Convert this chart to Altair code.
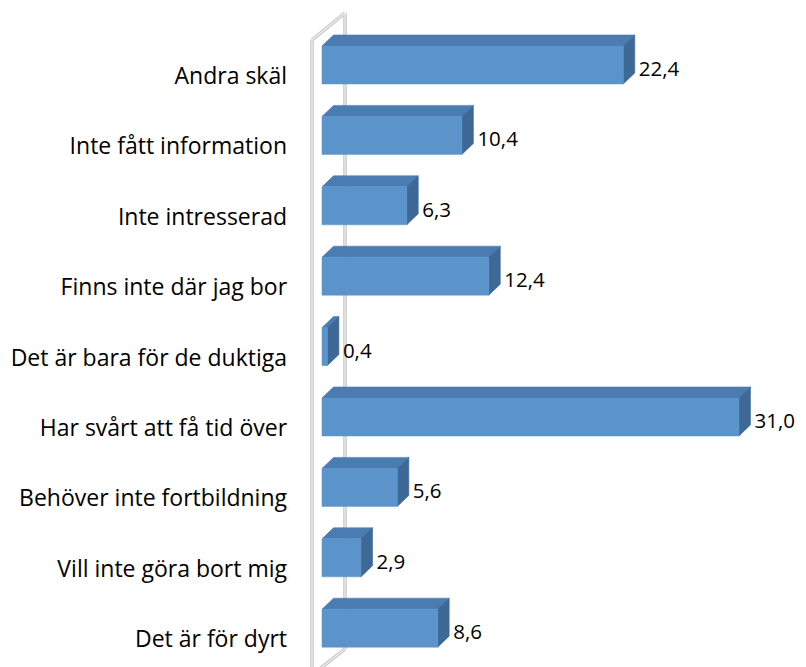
import altair as alt
import pandas as pd

# ---- data ----
categories = [
    "Andra skäl",
    "Inte fått information",
    "Inte intresserad",
    "Finns inte där jag bor",
    "Det är bara för de duktiga",
    "Har svårt att få tid över",
    "Behöver inte fortbildning",
    "Vill inte göra bort mig",
    "Det är för dyrt",
]
values = [22.4, 10.4, 6.3, 12.4, 0.4, 31.0, 5.6, 2.9, 8.6]

# ---- style / layout constants ----
W, H = 790, 659
PX_X = 13.45          # pixels per value unit
X0 = 314              # pixel of value 0 inside plot
PX_ROW = 70.4         # pixels between rows
ROW0 = 57             # pixel of first row centre
X_DOM = [-X0 / PX_X, (W - X0) / PX_X]
Y_DOM = [-ROW0 / PX_ROW, (H - ROW0) / PX_ROW]

HALF = 19 / PX_ROW    # half bar height (rows)
DY = 11 / PX_ROW      # depth offset (rows)
DX = 11.5 / PX_X      # depth offset (units)

FRONT = "#5B94CB"
TOP = "#4A7BB1"
SIDE = "#3E6895"
FONT = "Open Sans"
FSIZE = 23
VSIZE = 20.5

xs = alt.Scale(domain=X_DOM, nice=False, zero=False)
ys = alt.Scale(domain=Y_DOM, nice=False, zero=False, reverse=True)


def poly_area(poly, pid):
    """Convert convex polygon to area rows (x, y, y2)."""
    xs_ = sorted(set(round(p[0], 9) for p in poly))
    rows = []
    n = len(poly)
    for x in xs_:
        ys_ = []
        for k in range(n):
            (x1, y1), (x2, y2) = poly[k], poly[(k + 1) % n]
            lo, hi = min(x1, x2), max(x1, x2)
            if lo - 1e-9 <= x <= hi + 1e-9:
                if abs(x2 - x1) < 1e-12:
                    ys_ += [y1, y2]
                else:
                    t = (x - x1) / (x2 - x1)
                    ys_.append(y1 + t * (y2 - y1))
        rows.append({"id": pid, "x": x, "y": min(ys_), "y2": max(ys_)})
    return rows


front_rows, top_rows, side_rows, val_rows, cat_rows = [], [], [], [], []
for i, (c, v) in enumerate(zip(categories, values)):
    t, b = i - HALF, i + HALF
    front_rows.append({"id": i, "x": 0, "x2": v, "y": t, "y2": b})
    top_rows += poly_area([(0, t), (v, t), (v + DX, t - DY), (DX, t - DY)], i)
    side_rows += poly_area([(v, t), (v + DX, t - DY), (v + DX, b - DY), (v, b)], i)
    val_rows.append({"x": v + DX + 4 / PX_X, "y": i + 5 / PX_ROW,
                     "label": f"{v:.1f}".replace(".", ",")})
    cat_rows.append({"x": -2.6, "y": i + 12 / PX_ROW, "label": c})

# wall (gray frame)
def px2x(p):
    return (p - 8 - X0) / PX_X

def px2y(p):
    return (p - 8 - ROW0) / PX_ROW

wall_segments = [
    [(312, 40), (312, 690)],
    [(345, 13), (345, 649)],
    [(312, 40), (345, 13)],
    [(312, 675), (345, 649)],
]
wall_rows = []
for k, seg in enumerate(wall_segments):
    for j, (px, py) in enumerate(seg):
        wall_rows.append({"seg": k, "o": j, "x": px2x(px), "y": px2y(py)})
wall_df = pd.DataFrame(wall_rows)

wall_enc = dict(
    x=alt.X("x:Q", scale=xs, axis=None),
    y=alt.Y("y:Q", scale=ys, axis=None),
    detail="seg:N",
    order="o:Q",
)
wall_outer = alt.Chart(wall_df).mark_line(color="#c4c4c4", strokeWidth=3.5, clip=True).encode(**wall_enc)
wall_inner = alt.Chart(wall_df).mark_line(color="#efefef", strokeWidth=1.3, clip=True).encode(**wall_enc)

area_enc = dict(
    x=alt.X("x:Q", scale=xs, axis=None),
    y=alt.Y("y:Q", scale=ys, axis=None),
    y2="y2:Q",
    detail="id:N",
)
top_layer = alt.Chart(pd.DataFrame(top_rows)).mark_area(
    color=TOP, stroke=TOP, strokeWidth=0.6, interpolate="linear").encode(**area_enc)
side_layer = alt.Chart(pd.DataFrame(side_rows)).mark_area(
    color=SIDE, stroke=SIDE, strokeWidth=0.6, interpolate="linear").encode(**area_enc)
front_layer = alt.Chart(pd.DataFrame(front_rows)).mark_rect(
    color=FRONT, stroke=FRONT, strokeWidth=0.5).encode(
    x=alt.X("x:Q", scale=xs, axis=None),
    x2="x2:Q",
    y=alt.Y("y:Q", scale=ys, axis=None),
    y2="y2:Q",
)

val_layer = alt.Chart(pd.DataFrame(val_rows)).mark_text(
    align="left", baseline="middle", font=FONT, fontSize=VSIZE, color="#000000").encode(
    x=alt.X("x:Q", scale=xs, axis=None),
    y=alt.Y("y:Q", scale=ys, axis=None),
    text="label:N",
)
cat_layer = alt.Chart(pd.DataFrame(cat_rows)).mark_text(
    align="right", baseline="middle", font=FONT, fontSize=FSIZE, color="#000000").encode(
    x=alt.X("x:Q", scale=xs, axis=None),
    y=alt.Y("y:Q", scale=ys, axis=None),
    text="label:N",
)

chart = alt.layer(
    wall_outer, wall_inner, top_layer, side_layer, front_layer, val_layer, cat_layer
).properties(
    width=W, height=H, autosize=alt.AutoSizeParams(type="none"), padding=0,
    background="white",
).configure_view(stroke=None)

chart.save("out.html", embed_options={"renderer": "svg", "actions": False})
